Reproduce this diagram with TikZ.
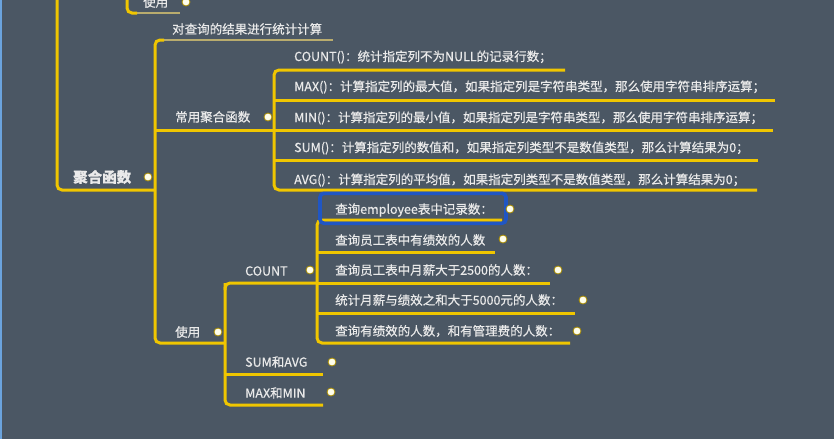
\documentclass[tikz,border=0pt]{standalone}
\usepackage{fontspec}
\setmainfont{Noto Sans CJK SC}[FakeBold=0.5]
\definecolor{bgc}{RGB}{75,87,100}
\definecolor{yel}{RGB}{240,198,0}
\definecolor{txt}{RGB}{234,234,234}
\definecolor{selblue}{RGB}{32,86,196}
\definecolor{paleline}{RGB}{185,172,110}
\begin{document}
\begin{tikzpicture}[x=1pt,y=-1pt,
  branch/.style={draw=yel,line width=3pt,rounded corners=5pt},
  thinbranch/.style={draw=paleline,line width=1.4pt},
  lbl/.style={anchor=west,inner sep=0pt,text=txt,font=\fontsize{12.5}{14}\selectfont},
  rootlbl/.style={lbl,font=\fontsize{14.5}{16}\bfseries\selectfont},
  knob/.style={circle,fill=white!92!yellow,draw=yel!70!black,line width=0.8pt,minimum size=8pt,inner sep=0pt},
  selbox/.style={draw=selblue,line width=3.6pt,rounded corners=4pt}]
\useasboundingbox (0,0) rectangle (834,439);
\fill[bgc] (0,0) rectangle (834,439);
\fill[cyan!60!blue!60] (0,0) rectangle (2,439);

% coordinates of lines
\coordinate (tl0) at (57,0);
\coordinate (rootend) at (155,190);
\coordinate (u0) at (127,0);
\coordinate (u0mid) at (137,13);
\coordinate (u0end) at (180,13);
\coordinate (mtop) at (164,40);
\coordinate (descend) at (333,40);
\coordinate (cyjoin) at (155,130);
\coordinate (b2) at (274,130);
\coordinate (syjoin) at (155,343);
\coordinate (b3) at (225,343);

% texts
\node[lbl] (top) at (143,2) {使用};
\node[lbl] (desc) at (172,29) {对查询的结果进行统计计算};
\node[rootlbl] (root) at (73,177) {聚合函数};
\node[lbl] (cy) at (175,117) {常用聚合函数};
\node[lbl] (f1) at (294,57) {COUNT()：统计指定列不为NULL的记录行数；};
\node[lbl] (f2) at (294,87) {MAX()：计算指定列的最大值，如果指定列是字符串类型，那么使用字符串排序运算；};
\node[lbl] (f3) at (294,118) {MIN()：计算指定列的最小值，如果指定列是字符串类型，那么使用字符串排序运算；};
\node[lbl] (f4) at (294,148) {SUM()：计算指定列的数值和，如果指定列类型不是数值类型，那么计算结果为0；};
\node[lbl] (f5) at (294,180) {AVG()：计算指定列的平均值，如果指定列类型不是数值类型，那么计算结果为0；};
\node[lbl] (sy) at (175,332) {使用};
\node[lbl] (cnt) at (245,271) {COUNT};
\node[lbl] (sa) at (245,362) {SUM和AVG};
\node[lbl] (mm) at (245,393) {MAX和MIN};
\node[lbl] (c1) at (335,210) {查询employee表中记录数：};
\node[lbl] (c2) at (335,240) {查询员工表中有绩效的人数};
\node[lbl] (c3) at (335,270) {查询员工表中月薪大于2500的人数：};
\node[lbl] (c4) at (335,300) {统计月薪与绩效之和大于5000元的人数：};
\node[lbl] (c5) at (335,331) {查询有绩效的人数，和有管理费的人数：};

% connectors
\draw[branch] (tl0) |- (rootend);
\draw[thinbranch] (u0mid) -- (u0end);
\draw[branch] (u0) |- (u0mid);
\draw[thinbranch] (mtop) -- (descend);
\draw[branch] (mtop) -- (155,40) -- (syjoin) -- (b3);
\draw[branch] (cyjoin) -- (b2);
\draw[branch] (565,70) -- (274,70) -- (274,190) -- (757,190);
\draw[branch] (274,100) -- (775,100);
\draw[branch] (b2) -- (773,130);
\draw[branch] (274,160) -- (758,160);
\draw[branch] (225,283) -- (225,405) -- (323,405);
\draw[branch] (225,290) -- (225,283) -- (317,283);
\draw[branch] (225,374) -- (323,374);
\draw[branch] (502,220) -- (317,220) -- (317,343) -- (570,343);
\draw[branch] (317,252) -- (495,252);
\draw[branch] (317,283) -- (550,283);
\draw[branch] (317,313) -- (575,313);

% selection box
\draw[selbox] (320,193.3) rectangle (506,223.3);

% knobs
\node[knob] (k0) at (186,2) {};
\node[knob] (kroot) at (148,177) {};
\node[knob] (kcy) at (268,117) {};
\node[knob] (kcnt) at (310,270) {};
\node[knob] (ksy) at (218,332) {};
\node[knob] (ksa) at (332,362) {};
\node[knob] (kmm) at (331,392) {};
\node[knob] (kc1) at (510,209) {};
\node[knob] (kc2) at (503,239) {};
\node[knob] (kc3) at (558,270) {};
\node[knob] (kc4) at (583,300) {};
\node[knob] (kc5) at (577,331) {};
\end{tikzpicture}
\end{document}
